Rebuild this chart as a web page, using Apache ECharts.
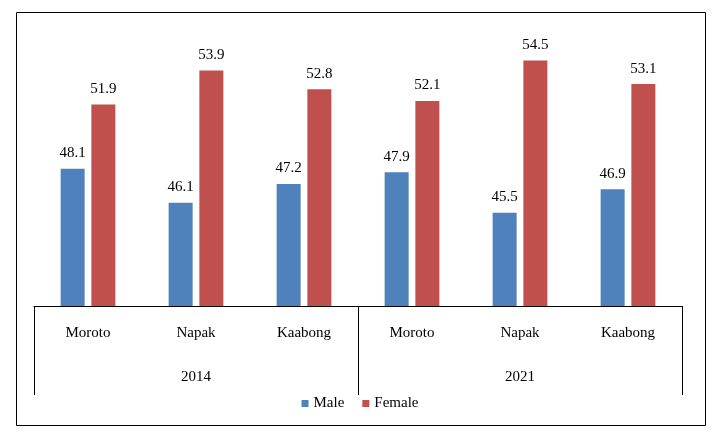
<!DOCTYPE html>
<html>
<head>
<meta charset="utf-8">
<script src="https://cdn.jsdelivr.net/npm/echarts@6/dist/echarts.min.js"></script>
<style>
html,body{margin:0;padding:0;background:#fff;}
#chart{width:720px;height:439px;}
</style>
</head>
<body>
<div id="chart"></div>
<script>
const districts = ['Moroto','Napak','Kaabong','Moroto','Napak','Kaabong'];
const years = ['2014','2021'];
const male = [48.1,46.1,47.2,47.9,45.5,46.9];
const female = [51.9,53.9,52.8,52.1,54.5,53.1];

const FONT = '"Liberation Serif","Times New Roman",serif';
const chart = echarts.init(document.getElementById('chart'), null, {renderer:'canvas'});
chart.setOption({
  animation:false,
  backgroundColor:'#fff',
  textStyle:{fontFamily:FONT},
  grid:{left:34,right:38,top:35,bottom:133},
  legend:{
    data:['Male','Female'],
    left:'center', top:391,
    icon:'rect', itemWidth:7, itemHeight:7, itemGap:18,
    textStyle:{fontFamily:FONT,fontSize:15,color:'#000'}
  },
  xAxis:[
    {
      type:'category', data:districts, position:'bottom',
      axisLine:{show:true,onZero:false,lineStyle:{color:'#000',width:1}},
      axisTick:{show:false},
      axisLabel:{margin:20,fontFamily:FONT,fontSize:15,color:'#000'}
    },
    {
      type:'category', data:years, position:'bottom', gridIndex:0,
      axisLine:{show:false,onZero:false},
      axisTick:{show:true,length:89,lineStyle:{color:'#000',width:1}},
      axisLabel:{margin:64,fontFamily:FONT,fontSize:15,color:'#000'}
    }
  ],
  yAxis:{type:'value',min:40,max:56,show:false,splitLine:{show:false}},
  series:[
    {
      name:'Male', type:'bar', data:male, xAxisIndex:0,
      barWidth:24, barGap:'28%',
      itemStyle:{color:'#4F81BD'},
      label:{show:true,position:'top',distance:8,fontFamily:FONT,fontSize:15,color:'#000'}
    },
    {
      name:'Female', type:'bar', data:female, xAxisIndex:0,
      barWidth:24,
      itemStyle:{color:'#C0504D'},
      label:{show:true,position:'top',distance:8,fontFamily:FONT,fontSize:15,color:'#000'}
    }
  ],
  graphic:[{
    type:'rect', silent:true,
    shape:{x:16.5,y:12.5,width:689,height:413},
    style:{fill:'none',stroke:'#000',lineWidth:1}
  }]
});
</script>
</body>
</html>
